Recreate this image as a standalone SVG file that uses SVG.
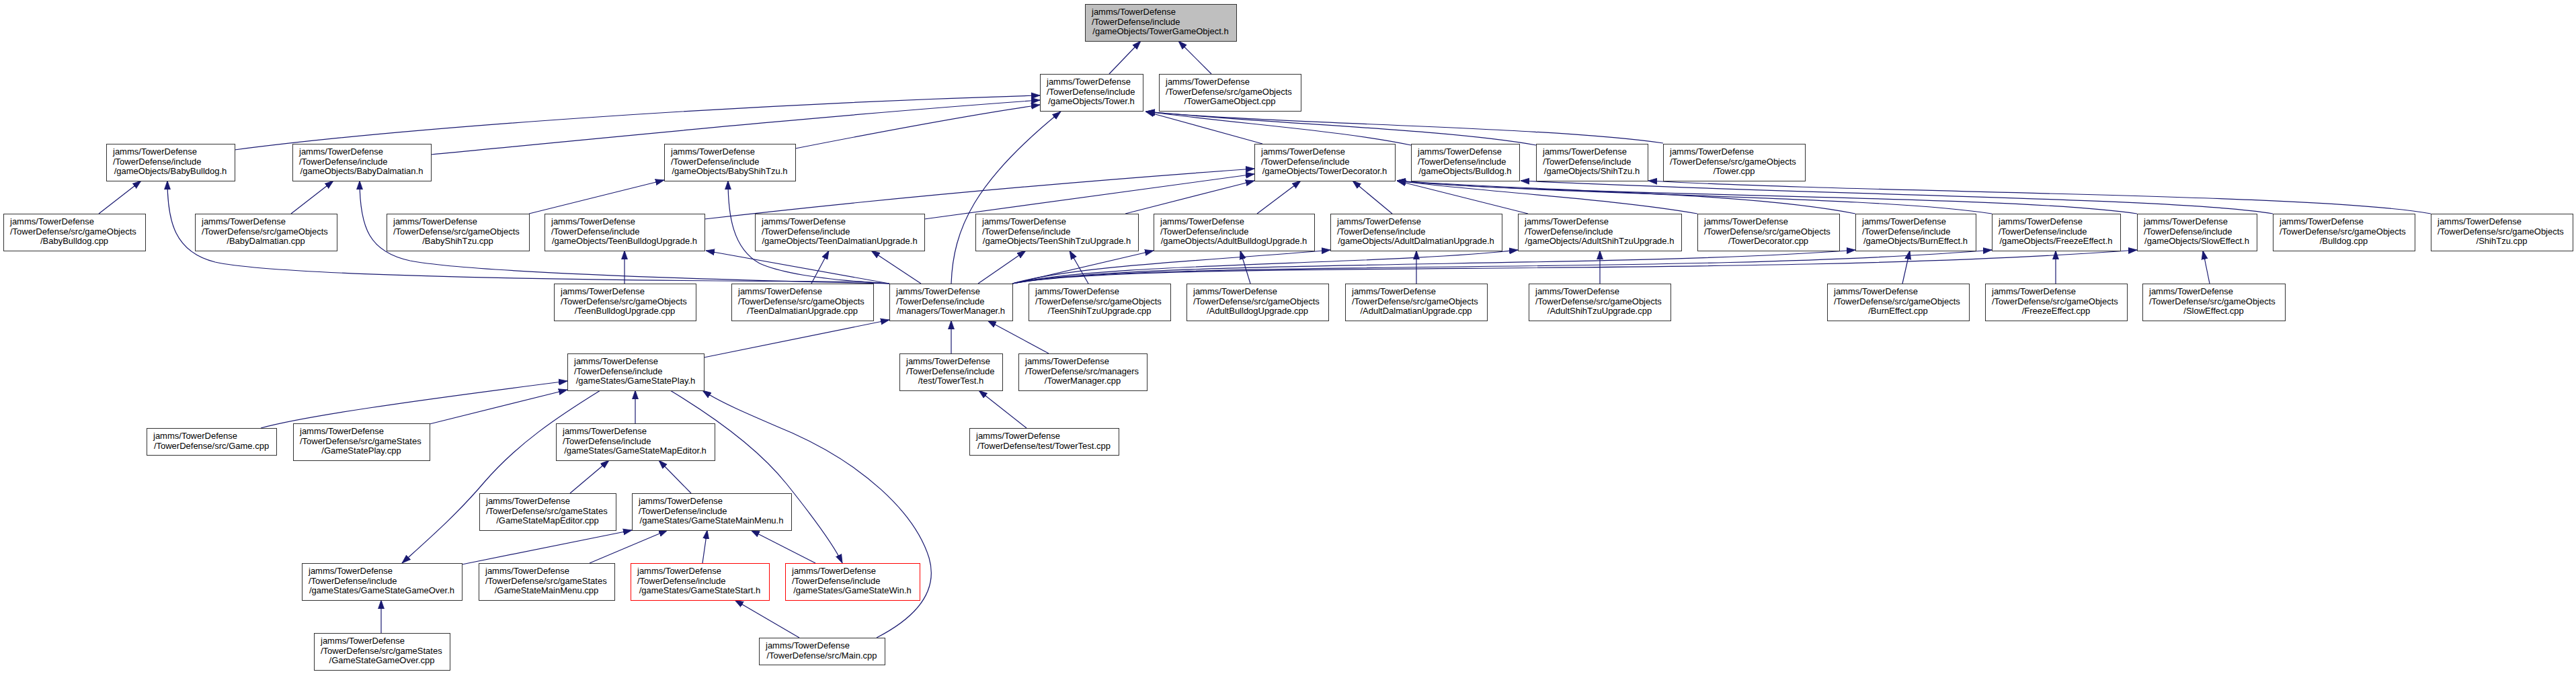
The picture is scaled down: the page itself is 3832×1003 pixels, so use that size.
<svg xmlns="http://www.w3.org/2000/svg" width="3832" height="1003" viewBox="0 0 3832 1003">
<style>
rect{fill:#fff;stroke:#333;stroke-width:1}
rect.root{fill:#bfbfbf}
rect.red{stroke:#ff0000}
text{font-family:"Liberation Sans",Arial,Helvetica,sans-serif;font-size:13px;fill:#000}
text.c{text-anchor:middle}
#edges path{fill:none;stroke:#191970;stroke-width:1.2;marker-end:url(#arr)}
</style>
<defs>
<marker id="arr" markerUnits="userSpaceOnUse" markerWidth="14" markerHeight="11" refX="13" refY="5.5" orient="auto">
<path d="M0,1 L13,5.5 L0,10 z" fill="#191970" stroke="#191970" stroke-width="0.8"/>
</marker>
</defs>
<rect x="0" y="0" width="3832" height="1003" style="fill:#fff;stroke:none"/>
<g id="edges">
<path d="M1650,110 L1697,61"/>
<path d="M1802,110 L1753,61"/>
<path d="M349,223 C600,190 1100,155 1547,142"/>
<path d="M641,230 C900,205 1250,170 1547,149"/>
<path d="M1183,221 C1300,198 1450,170 1547,156"/>
<path d="M1415,422 C1418,340 1450,270 1578,166"/>
<path d="M1878,214 L1704,166"/>
<path d="M2099,216 C2000,195 1850,185 1705,166"/>
<path d="M2285,216 C2150,192 1900,185 1705,166"/>
<path d="M2474,213 C2300,188 1900,185 1705,166"/>
<path d="M1048,326 C1300,297 1600,270 1866,251"/>
<path d="M1375,326 L1866,259"/>
<path d="M1674,318 L1866,269"/>
<path d="M1870,318 L1935,269"/>
<path d="M2071,318 L2012,269"/>
<path d="M2273,318 L2078,269"/>
<path d="M2525,318 C2400,296 2200,285 2078,269"/>
<path d="M2760,318 C2600,286 2300,285 2078,269"/>
<path d="M2963,318 C2800,292 2300,290 2078,269"/>
<path d="M3179,318 C3000,290 2300,292 2078,269"/>
<path d="M3381,318 C3250,295 2700,290 2262,269"/>
<path d="M3616,318 C3450,288 2800,288 2452,269"/>
<path d="M147,318 L210,269"/>
<path d="M433,318 L496,269"/>
<path d="M787,318 L988,268"/>
<path d="M1323,422 L1280,419 C900,418 420,412 320,390 C260,375 249,330 249,269"/>
<path d="M1323,422 C1000,415 700,405 610,388 C550,375 535,340 535,269"/>
<path d="M1323,422 C1250,418 1170,410 1130,392 C1090,370 1083,320 1083,269"/>
<path d="M1323,422 L1050,373"/>
<path d="M1370,422 L1296,373"/>
<path d="M1455,422 L1526,373"/>
<path d="M1506,422 L1716,373"/>
<path d="M1506,422 C1600,395 1800,388 1979,372"/>
<path d="M1506,422 C1650,390 2050,395 2258,372"/>
<path d="M1506,422 C1700,385 2400,400 2760,372"/>
<path d="M1506,422 C1700,385 2500,410 2963,372"/>
<path d="M1506,422 C1700,385 2600,415 3179,372"/>
<path d="M929,422 L929,373"/>
<path d="M1207,422 L1233,373"/>
<path d="M1619,422 L1591,373"/>
<path d="M1860,422 L1845,373"/>
<path d="M2107,422 L2107,373"/>
<path d="M2380,422 L2380,373"/>
<path d="M2830,422 L2841,373"/>
<path d="M3058,422 L3058,373"/>
<path d="M3287,422 L3277,373"/>
<path d="M1415,526 L1415,477"/>
<path d="M1560,526 L1469,477"/>
<path d="M1527,637 L1456,581"/>
<path d="M1047,532 L1323,476"/>
<path d="M388,637 C450,620 600,598 844,567"/>
<path d="M639,631 L844,580"/>
<path d="M945,630 L945,581"/>
<path d="M893,581 C830,620 770,660 720,718 C680,765 640,800 598,838"/>
<path d="M997,581 C1070,625 1130,670 1170,720 C1210,770 1240,810 1253,838"/>
<path d="M1304,949 C1370,915 1395,875 1382,830 C1360,760 1280,690 1180,645 C1110,615 1070,598 1045,581"/>
<path d="M848,734 L906,685"/>
<path d="M1028,734 L980,685"/>
<path d="M687,840 L940,789"/>
<path d="M877,838 L993,789"/>
<path d="M1045,838 L1052,789"/>
<path d="M1213,838 L1117,789"/>
<path d="M1189,949 L1093,893"/>
<path d="M567,942 L567,893"/>
</g>
<g id="n0"><rect class="root" x="1614.5" y="6.5" width="225" height="55"/><text x="1624" y="22">jamms/TowerDefense</text><text x="1624" y="36.5">/TowerDefense/include</text><text class="c" x="1726.5" y="51">/gameObjects/TowerGameObject.h</text></g>
<g id="n1"><rect x="1547.5" y="110.5" width="153" height="55"/><text x="1557" y="126">jamms/TowerDefense</text><text x="1557" y="140.5">/TowerDefense/include</text><text class="c" x="1623.5" y="155">/gameObjects/Tower.h</text></g>
<g id="n2"><rect x="1724.5" y="110.5" width="211" height="55"/><text x="1734" y="126">jamms/TowerDefense</text><text x="1734" y="140.5">/TowerDefense/src/gameObjects</text><text class="c" x="1829.5" y="155">/TowerGameObject.cpp</text></g>
<g id="n3"><rect x="158.5" y="214.5" width="191" height="55"/><text x="168" y="230">jamms/TowerDefense</text><text x="168" y="244.5">/TowerDefense/include</text><text class="c" x="253.5" y="259">/gameObjects/BabyBulldog.h</text></g>
<g id="n4"><rect x="435.5" y="214.5" width="206" height="55"/><text x="445" y="230">jamms/TowerDefense</text><text x="445" y="244.5">/TowerDefense/include</text><text class="c" x="538" y="259">/gameObjects/BabyDalmatian.h</text></g>
<g id="n5"><rect x="988.5" y="214.5" width="195" height="55"/><text x="998" y="230">jamms/TowerDefense</text><text x="998" y="244.5">/TowerDefense/include</text><text class="c" x="1085.5" y="259">/gameObjects/BabyShihTzu.h</text></g>
<g id="n6"><rect x="1866.5" y="214.5" width="209" height="55"/><text x="1876" y="230">jamms/TowerDefense</text><text x="1876" y="244.5">/TowerDefense/include</text><text class="c" x="1970.5" y="259">/gameObjects/TowerDecorator.h</text></g>
<g id="n7"><rect x="2099.5" y="214.5" width="161" height="55"/><text x="2109" y="230">jamms/TowerDefense</text><text x="2109" y="244.5">/TowerDefense/include</text><text class="c" x="2179.5" y="259">/gameObjects/Bulldog.h</text></g>
<g id="n8"><rect x="2285.5" y="214.5" width="166" height="55"/><text x="2295" y="230">jamms/TowerDefense</text><text x="2295" y="244.5">/TowerDefense/include</text><text class="c" x="2368" y="259">/gameObjects/ShihTzu.h</text></g>
<g id="n9"><rect x="2474.5" y="214.5" width="211" height="55"/><text x="2484" y="230">jamms/TowerDefense</text><text x="2484" y="244.5">/TowerDefense/src/gameObjects</text><text class="c" x="2579.5" y="259">/Tower.cpp</text></g>
<g id="n10"><rect x="5.5" y="318.5" width="211" height="55"/><text x="15" y="334">jamms/TowerDefense</text><text x="15" y="348.5">/TowerDefense/src/gameObjects</text><text class="c" x="110.5" y="363">/BabyBulldog.cpp</text></g>
<g id="n11"><rect x="290.5" y="318.5" width="211" height="55"/><text x="300" y="334">jamms/TowerDefense</text><text x="300" y="348.5">/TowerDefense/src/gameObjects</text><text class="c" x="395.5" y="363">/BabyDalmatian.cpp</text></g>
<g id="n12"><rect x="575.5" y="318.5" width="212" height="55"/><text x="585" y="334">jamms/TowerDefense</text><text x="585" y="348.5">/TowerDefense/src/gameObjects</text><text class="c" x="681" y="363">/BabyShihTzu.cpp</text></g>
<g id="n13"><rect x="810.5" y="318.5" width="238" height="55"/><text x="820" y="334">jamms/TowerDefense</text><text x="820" y="348.5">/TowerDefense/include</text><text class="c" x="929" y="363">/gameObjects/TeenBulldogUpgrade.h</text></g>
<g id="n14"><rect x="1123.5" y="318.5" width="252" height="55"/><text x="1133" y="334">jamms/TowerDefense</text><text x="1133" y="348.5">/TowerDefense/include</text><text class="c" x="1249" y="363">/gameObjects/TeenDalmatianUpgrade.h</text></g>
<g id="n15"><rect x="1451.5" y="318.5" width="242" height="55"/><text x="1461" y="334">jamms/TowerDefense</text><text x="1461" y="348.5">/TowerDefense/include</text><text class="c" x="1572" y="363">/gameObjects/TeenShihTzuUpgrade.h</text></g>
<g id="n16"><rect x="1716.5" y="318.5" width="239" height="55"/><text x="1726" y="334">jamms/TowerDefense</text><text x="1726" y="348.5">/TowerDefense/include</text><text class="c" x="1835.5" y="363">/gameObjects/AdultBulldogUpgrade.h</text></g>
<g id="n17"><rect x="1979.5" y="318.5" width="255" height="55"/><text x="1989" y="334">jamms/TowerDefense</text><text x="1989" y="348.5">/TowerDefense/include</text><text class="c" x="2106.5" y="363">/gameObjects/AdultDalmatianUpgrade.h</text></g>
<g id="n18"><rect x="2258.5" y="318.5" width="243" height="55"/><text x="2268" y="334">jamms/TowerDefense</text><text x="2268" y="348.5">/TowerDefense/include</text><text class="c" x="2379.5" y="363">/gameObjects/AdultShihTzuUpgrade.h</text></g>
<g id="n19"><rect x="2525.5" y="318.5" width="211" height="55"/><text x="2535" y="334">jamms/TowerDefense</text><text x="2535" y="348.5">/TowerDefense/src/gameObjects</text><text class="c" x="2630.5" y="363">/TowerDecorator.cpp</text></g>
<g id="n20"><rect x="2760.5" y="318.5" width="179" height="55"/><text x="2770" y="334">jamms/TowerDefense</text><text x="2770" y="348.5">/TowerDefense/include</text><text class="c" x="2849.5" y="363">/gameObjects/BurnEffect.h</text></g>
<g id="n21"><rect x="2963.5" y="318.5" width="191" height="55"/><text x="2973" y="334">jamms/TowerDefense</text><text x="2973" y="348.5">/TowerDefense/include</text><text class="c" x="3058.5" y="363">/gameObjects/FreezeEffect.h</text></g>
<g id="n22"><rect x="3179.5" y="318.5" width="178" height="55"/><text x="3189" y="334">jamms/TowerDefense</text><text x="3189" y="348.5">/TowerDefense/include</text><text class="c" x="3268" y="363">/gameObjects/SlowEffect.h</text></g>
<g id="n23"><rect x="3381.5" y="318.5" width="211" height="55"/><text x="3391" y="334">jamms/TowerDefense</text><text x="3391" y="348.5">/TowerDefense/src/gameObjects</text><text class="c" x="3486.5" y="363">/Bulldog.cpp</text></g>
<g id="n24"><rect x="3616.5" y="318.5" width="211" height="55"/><text x="3626" y="334">jamms/TowerDefense</text><text x="3626" y="348.5">/TowerDefense/src/gameObjects</text><text class="c" x="3721.5" y="363">/ShihTzu.cpp</text></g>
<g id="n25"><rect x="824.5" y="422.5" width="211" height="55"/><text x="834" y="438">jamms/TowerDefense</text><text x="834" y="452.5">/TowerDefense/src/gameObjects</text><text class="c" x="929.5" y="467">/TeenBulldogUpgrade.cpp</text></g>
<g id="n26"><rect x="1088.5" y="422.5" width="211" height="55"/><text x="1098" y="438">jamms/TowerDefense</text><text x="1098" y="452.5">/TowerDefense/src/gameObjects</text><text class="c" x="1193.5" y="467">/TeenDalmatianUpgrade.cpp</text></g>
<g id="n27"><rect x="1323.5" y="422.5" width="183" height="55"/><text x="1333" y="438">jamms/TowerDefense</text><text x="1333" y="452.5">/TowerDefense/include</text><text class="c" x="1414.5" y="467">/managers/TowerManager.h</text></g>
<g id="n28"><rect x="1530.5" y="422.5" width="211" height="55"/><text x="1540" y="438">jamms/TowerDefense</text><text x="1540" y="452.5">/TowerDefense/src/gameObjects</text><text class="c" x="1635.5" y="467">/TeenShihTzuUpgrade.cpp</text></g>
<g id="n29"><rect x="1765.5" y="422.5" width="211" height="55"/><text x="1775" y="438">jamms/TowerDefense</text><text x="1775" y="452.5">/TowerDefense/src/gameObjects</text><text class="c" x="1870.5" y="467">/AdultBulldogUpgrade.cpp</text></g>
<g id="n30"><rect x="2001.5" y="422.5" width="211" height="55"/><text x="2011" y="438">jamms/TowerDefense</text><text x="2011" y="452.5">/TowerDefense/src/gameObjects</text><text class="c" x="2106.5" y="467">/AdultDalmatianUpgrade.cpp</text></g>
<g id="n31"><rect x="2274.5" y="422.5" width="211" height="55"/><text x="2284" y="438">jamms/TowerDefense</text><text x="2284" y="452.5">/TowerDefense/src/gameObjects</text><text class="c" x="2379.5" y="467">/AdultShihTzuUpgrade.cpp</text></g>
<g id="n32"><rect x="2718.5" y="422.5" width="211" height="55"/><text x="2728" y="438">jamms/TowerDefense</text><text x="2728" y="452.5">/TowerDefense/src/gameObjects</text><text class="c" x="2823.5" y="467">/BurnEffect.cpp</text></g>
<g id="n33"><rect x="2953.5" y="422.5" width="211" height="55"/><text x="2963" y="438">jamms/TowerDefense</text><text x="2963" y="452.5">/TowerDefense/src/gameObjects</text><text class="c" x="3058.5" y="467">/FreezeEffect.cpp</text></g>
<g id="n34"><rect x="3187.5" y="422.5" width="212" height="55"/><text x="3197" y="438">jamms/TowerDefense</text><text x="3197" y="452.5">/TowerDefense/src/gameObjects</text><text class="c" x="3293" y="467">/SlowEffect.cpp</text></g>
<g id="n35"><rect x="844.5" y="526.5" width="203" height="55"/><text x="854" y="542">jamms/TowerDefense</text><text x="854" y="556.5">/TowerDefense/include</text><text class="c" x="945.5" y="571">/gameStates/GameStatePlay.h</text></g>
<g id="n36"><rect x="1338.5" y="526.5" width="153" height="55"/><text x="1348" y="542">jamms/TowerDefense</text><text x="1348" y="556.5">/TowerDefense/include</text><text class="c" x="1414.5" y="571">/test/TowerTest.h</text></g>
<g id="n37"><rect x="1515.5" y="526.5" width="191" height="55"/><text x="1525" y="542">jamms/TowerDefense</text><text x="1525" y="556.5">/TowerDefense/src/managers</text><text class="c" x="1610.5" y="571">/TowerManager.cpp</text></g>
<g id="n38"><rect x="218.5" y="637.5" width="193" height="40"/><text x="228" y="653">jamms/TowerDefense</text><text class="c" x="314.5" y="667.5">/TowerDefense/src/Game.cpp</text></g>
<g id="n39"><rect x="436.5" y="630.5" width="203" height="55"/><text x="446" y="646">jamms/TowerDefense</text><text x="446" y="660.5">/TowerDefense/src/gameStates</text><text class="c" x="537.5" y="675">/GameStatePlay.cpp</text></g>
<g id="n40"><rect x="827.5" y="630.5" width="236" height="55"/><text x="837" y="646">jamms/TowerDefense</text><text x="837" y="660.5">/TowerDefense/include</text><text class="c" x="945" y="675">/gameStates/GameStateMapEditor.h</text></g>
<g id="n41"><rect x="1442.5" y="637.5" width="222" height="40"/><text x="1452" y="653">jamms/TowerDefense</text><text class="c" x="1553" y="667.5">/TowerDefense/test/TowerTest.cpp</text></g>
<g id="n42"><rect x="713.5" y="734.5" width="203" height="55"/><text x="723" y="750">jamms/TowerDefense</text><text x="723" y="764.5">/TowerDefense/src/gameStates</text><text class="c" x="814.5" y="779">/GameStateMapEditor.cpp</text></g>
<g id="n43"><rect x="940.5" y="734.5" width="237" height="55"/><text x="950" y="750">jamms/TowerDefense</text><text x="950" y="764.5">/TowerDefense/include</text><text class="c" x="1058.5" y="779">/gameStates/GameStateMainMenu.h</text></g>
<g id="n44"><rect x="449.5" y="838.5" width="238" height="55"/><text x="459" y="854">jamms/TowerDefense</text><text x="459" y="868.5">/TowerDefense/include</text><text class="c" x="568" y="883">/gameStates/GameStateGameOver.h</text></g>
<g id="n45"><rect x="712.5" y="838.5" width="202" height="55"/><text x="722" y="854">jamms/TowerDefense</text><text x="722" y="868.5">/TowerDefense/src/gameStates</text><text class="c" x="813" y="883">/GameStateMainMenu.cpp</text></g>
<g id="n46"><rect class="red" x="938.5" y="838.5" width="206" height="55"/><text x="948" y="854">jamms/TowerDefense</text><text x="948" y="868.5">/TowerDefense/include</text><text class="c" x="1041" y="883">/gameStates/GameStateStart.h</text></g>
<g id="n47"><rect class="red" x="1168.5" y="838.5" width="200" height="55"/><text x="1178" y="854">jamms/TowerDefense</text><text x="1178" y="868.5">/TowerDefense/include</text><text class="c" x="1268" y="883">/gameStates/GameStateWin.h</text></g>
<g id="n48"><rect x="467.5" y="942.5" width="202" height="55"/><text x="477" y="958">jamms/TowerDefense</text><text x="477" y="972.5">/TowerDefense/src/gameStates</text><text class="c" x="568" y="987">/GameStateGameOver.cpp</text></g>
<g id="n49"><rect x="1129.5" y="949.5" width="187" height="40"/><text x="1139" y="965">jamms/TowerDefense</text><text class="c" x="1222.5" y="979.5">/TowerDefense/src/Main.cpp</text></g>
</svg>
